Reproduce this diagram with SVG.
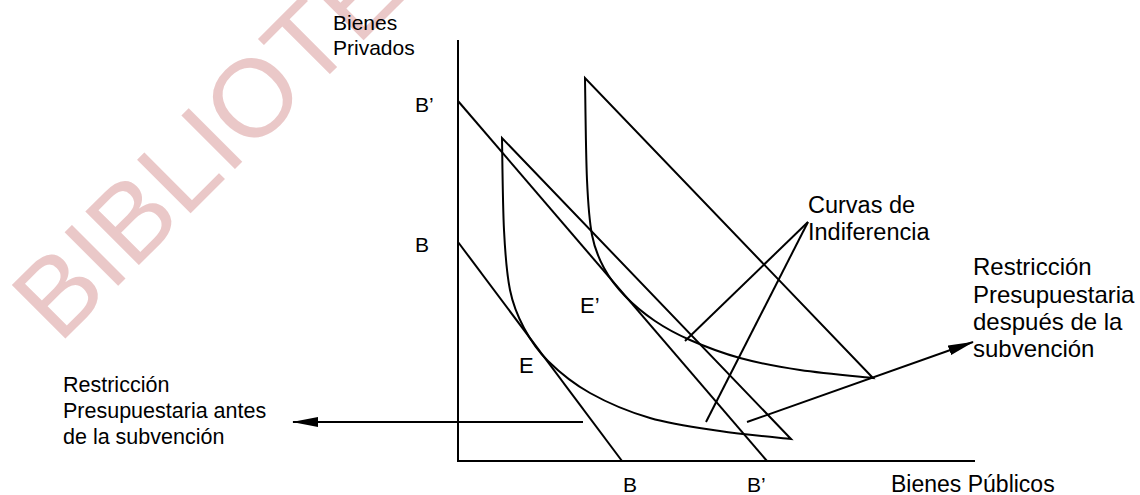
<svg xmlns="http://www.w3.org/2000/svg" width="1140" height="495" viewBox="0 0 1140 495">
<defs>
<style>
.ln{fill:none;stroke:#000;stroke-width:2;stroke-linejoin:miter}
.t{font-family:"Liberation Sans",Arial,sans-serif;fill:#000}
.wm{font-family:"Liberation Sans",Arial,sans-serif;fill:#EAC8C8}
</style>
<marker id="ah" markerWidth="26" markerHeight="10" refX="25" refY="5" orient="auto" markerUnits="userSpaceOnUse">
<path d="M0,0 L26,5 L0,10 Z" fill="#000"/>
</marker>
</defs>
<rect width="1140" height="495" fill="#fff"/>
<g id="watermark">
<text class="wm" font-size="110" transform="translate(59,345) rotate(-45)">BIBLIOTECA</text>
</g>
<g id="axes">
<path class="ln" d="M458,40 L458,461 L975,461"/>
<text class="t" font-size="21" x="333" y="30">Bienes</text>
<text class="t" font-size="21" x="333" y="55">Privados</text>
<text class="t" font-size="23" x="891" y="492">Bienes Públicos</text>
</g>
<g id="budget-B">
<path class="ln" d="M458,242 L622,461"/>
<text class="t" font-size="21" x="415" y="252">B</text>
<text class="t" font-size="21" x="623" y="492">B</text>
</g>
<g id="budget-B2">
<path class="ln" d="M458,101 L767,461"/>
<text class="t" font-size="21" x="415" y="112">B’</text>
<text class="t" font-size="21" x="747" y="492">B’</text>
</g>
<g id="ic-inner">
<path class="ln" d="M502,138 C502.3,153.3 502.7,204.7 504,230 C505.3,255.3 506.7,273.7 510,290 C513.3,306.3 517.7,316.2 524,328 C530.3,339.8 537,350.2 548,361 C559,371.8 573,383.5 590,393 C607,402.5 628.3,411.7 650,418 C671.7,424.3 696.5,427.5 720,431 C743.5,434.5 779.2,437.7 791,439 Z"/>
<text class="t" font-size="22" x="519" y="373">E</text>
</g>
<g id="ic-outer">
<path class="ln" d="M585,78 C585.3,95 585.8,153.8 587,180 C588.2,206.2 589.2,220.3 592,235 C594.8,249.7 598.5,257.8 604,268 C609.5,278.2 616.5,287.2 625,296 C633.5,304.8 644.2,313.7 655,321 C665.8,328.3 675.8,333.8 690,340 C704.2,346.2 721.7,353 740,358 C758.3,363 777.8,366.7 800,370 C822.2,373.3 860.8,376.7 873,378 Z"/>
<text class="t" font-size="22" x="580" y="313">E’</text>
</g>
<g id="label-curvas">
<text class="t" font-size="23.5" x="808" y="213">Curvas de</text>
<text class="t" font-size="23.5" x="808" y="240">Indiferencia</text>
</g>
<g id="label-antes">
<text class="t" font-size="21.5" x="63" y="392">Restricción</text>
<text class="t" font-size="21.5" x="63" y="418">Presupuestaria antes</text>
<text class="t" font-size="21.5" x="63" y="444">de la subvención</text>
</g>
<g id="label-despues">
<text class="t" font-size="24" x="973" y="275">Restricción</text>
<text class="t" font-size="24" x="973" y="303">Presupuestaria</text>
<text class="t" font-size="24" x="973" y="330">después de la</text>
<text class="t" font-size="24" x="973" y="357">subvención</text>
</g>
<g id="connectors">
<path class="ln" d="M808,222 L685,341"/>
<path class="ln" d="M808,222 L706,422"/>
<path class="ln" d="M583,422 L293,422" marker-end="url(#ah)"/>
<path class="ln" d="M747,422 L973,342" marker-end="url(#ah)"/>
</g>
</svg>
